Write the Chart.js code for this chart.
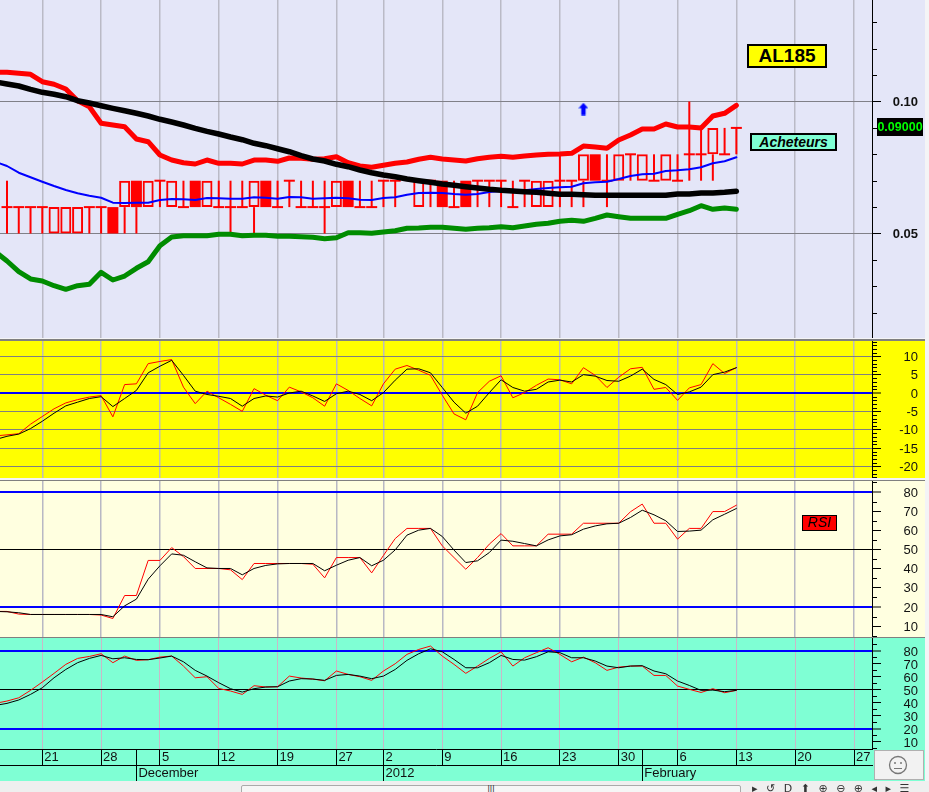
<!DOCTYPE html>
<html>
<head>
<meta charset="utf-8">
<title>AL185</title>
<script src="https://cdn.jsdelivr.net/npm/chart.js@4/dist/chart.umd.min.js"></script>
<style>
  html, body { margin:0; padding:0; width:929px; height:792px; overflow:hidden; background:#f4f4f6; font-family:"Liberation Sans", Arial, sans-serif; }
  canvas { position:absolute; left:0; display:block; }
  .sep { position:absolute; left:0; width:925px; background:#808080; }
  .tag { position:absolute; box-sizing:border-box; border:2px solid #000; text-align:center; color:#000; white-space:nowrap; }
  .abs { position:absolute; }
</style>
</head>
<body>
<canvas id="c-price" width="925" height="338" style="top:0;background:#e4e6f8"></canvas>
<div class="sep" style="top:339px;height:2px"></div>
<canvas id="c-macd" width="925" height="137" style="top:341px;background:#ffff00"></canvas>
<div class="sep" style="top:480px;height:1px"></div>
<canvas id="c-rsi" width="925" height="156" style="top:481px;background:#ffffe0"></canvas>
<div class="sep" style="top:637px;height:1px"></div>
<canvas id="c-stoch" width="925" height="143" style="top:638px;background:#7fffd4"></canvas>

<div class="tag" style="left:747px;top:44px;width:80px;height:24px;background:#ffff00;font:bold 19px/20px 'Liberation Sans'">AL185</div>
<div class="tag" style="left:750px;top:133px;width:87px;height:18px;background:#7fffd4;font:italic bold 14px/14px 'Liberation Sans'">Acheteurs</div>
<div class="tag" style="left:802px;top:515px;width:35px;height:16px;background:#ff0000;font:italic 14px/13px 'Liberation Sans';border-width:1px">RSI</div>
<div class="abs" style="left:877px;top:118px;width:46px;height:18px;background:#000;color:#00ff00;font:bold 12.5px/18px 'Liberation Sans';overflow:hidden;text-align:center">0.09000</div>

<!-- boite du smiley et barre du bas -->
<div class="abs" style="left:874px;top:750px;width:50px;height:30px;box-sizing:border-box;background:#f2f2f2;border:1px solid #b0b0b0">
  <svg width="48" height="28" style="display:block"><circle cx="23" cy="14" r="8.5" fill="none" stroke="#777" stroke-width="1.3"/><circle cx="20" cy="12" r="1" fill="#777"/><circle cx="26" cy="12" r="1" fill="#777"/><line x1="19" y1="17.5" x2="27" y2="17.5" stroke="#777"/></svg>
</div>
<div class="abs" style="left:0;top:781px;width:929px;height:11px;background:#efefef"></div>
<div class="abs" style="left:241px;top:785px;width:500px;height:12px;box-sizing:border-box;background:#f6f6f6;border:1px solid #aaa;border-radius:2px;text-align:center;font:9px/7px 'Liberation Sans';color:#333">|||</div>
<div class="abs" style="left:752px;top:783px;width:177px;height:9px;overflow:hidden;font:11px/12px 'DejaVu Sans';color:#333;white-space:nowrap;word-spacing:5px">▸ ↺ D ⬆ ⊕ ⊖ ⊕ ◂ ▸ ☰</div>

<script>
/* =====================================================
   DATOS
===================================================== */
const tickIdx    = [3,8,13,18,23,28,32,37,42,47,52,57,62,67,72];
const tickLabels = ['21','28','5','12','19','27','2','9','16','23','30','6','13','20','27'];
const monthIdx    = [11,32,54];
const monthLabels = ['December','2012','February'];

// bar index -1 .. 62
const bollUp = [.11117,.11106,.11068,.11030,.10750,.10652,.10473,.10030,.09803,.09174,.09110,.09045,.08580,.08477,.07973,.07784,
  .07682,.07633,.07784,.07659,.07659,.07633,.07784,.07784,.07735,.07860,.07850,.07811,.07833,.07909,.07682,.07557,
  .07508,.07583,.07659,.07708,.07811,.07886,.07822,.07784,.07746,.07833,.07886,.07924,.07886,.07936,.07973,.08000,
  .08011,.08038,.08314,.08277,.08227,.08542,.08731,.08958,.08958,.09148,.09034,.09034,.08996,.09451,.09553,.09856];
const slowMa = [.10739,.10663,.10587,.10462,.10348,.10273,.10182,.10030,.09943,.09841,.09742,.09652,.09553,.09451,.09326,.09223,
  .09110,.08985,.08871,.08769,.08655,.08553,.08417,.08326,.08212,.08098,.07947,.07822,.07746,.07621,.07530,.07405,
  .07303,.07216,.07152,.07064,.07000,.06939,.06875,.06826,.06773,.06723,.06674,.06636,.06610,.06583,.06561,.06523,
  .06485,.06485,.06470,.06447,.06447,.06447,.06447,.06447,.06447,.06447,.06496,.06496,.06534,.06534,.06561,.06598];
const fastMa = [.07720,.07557,.07303,.07129,.06962,.06799,.06648,.06523,.06432,.06356,.06167,.06155,.06167,.06167,.06269,.06307,
  .06295,.06269,.06345,.06333,.06318,.06318,.06371,.06356,.06318,.06383,.06371,.06318,.06333,.06356,.06333,.06280,
  .06269,.06345,.06371,.06470,.06534,.06545,.06534,.06496,.06470,.06496,.06572,.06610,.06621,.06636,.06686,.06723,
  .06750,.06773,.06902,.06939,.06962,.07064,.07178,.07242,.07265,.07367,.07394,.07432,.07508,.07659,.07735,.07886];
const bollDown = [.04311,.03958,.03553,.03277,.03201,.03023,.02886,.03023,.03076,.03530,.03239,.03390,.03682,.03932,.04538,.04867,
  .04917,.04917,.04917,.04970,.04970,.04917,.04932,.04932,.04894,.04894,.04879,.04856,.04803,.04841,.05030,.05030,
  .05008,.05057,.05106,.05197,.05208,.05235,.05235,.05197,.05159,.05197,.05220,.05258,.05220,.05284,.05348,.05386,
  .05462,.05500,.05462,.05576,.05701,.05636,.05576,.05576,.05576,.05576,.05727,.05864,.06053,.05917,.05966,.05917];

// candles, bar index 0 .. 62 (34 no se ve)
const opens = [.06,.06,.06,.06,.05,.05,.05,.06,.06,.06, .06,.07,.06,.07,.06,.06,.07,.06,.06,.06,
  .06,.06,.07,.06,.07,.06,.06,.06,.06,.07, .06,.06,.07,.07,null,.06,.07,.07,.06,.07,
  .07,.07,.07,.06,.07,.06,.06,.07,.07,.07, .08,.07,.07,.08,.07,.07,.07,.07,.08,.08, .08,.08,.09];
const highs = [.07,.06,.06,.06,.06,.06,.06,.06,.06,.06, .07,.07,.07,.07,.07,.07,.07,.07,.07,.07,
  .07,.07,.07,.07,.07,.07,.07,.07,.07,.07, .07,.07,.07,.07,null,.07,.07,.07,.07,.07,
  .07,.07,.07,.07,.07,.07,.07,.08,.07,.08, .08,.08,.08,.08,.08,.08,.08,.08,.10,.09, .09,.09,.09];
const lows = [.05,.05,.05,.05,.05,.05,.05,.05,.05,.05, .05,.05,.06,.06,.06,.06,.06,.06,.06,.05,
  .06,.05,.06,.06,.06,.06,.06,.05,.06,.06, .06,.06,.06,.06,null,.06,.06,.06,.06,.06,
  .06,.06,.06,.06,.06,.06,.06,.06,.06,.06, .07,.06,.07,.07,.07,.07,.07,.07,.07,.07, .07,.08,.08];
const closes = [.06,.06,.06,.06,.06,.06,.06,.06,.06,.05, .07,.06,.07,.07,.07,.06,.06,.07,.06,.06,
  .06,.07,.06,.06,.07,.06,.06,.06,.07,.06, .06,.06,.07,.07,null,.07,.07,.06,.06,.06,
  .07,.07,.07,.06,.07,.07,.07,.07,.07,.08, .07,.07,.08,.08,.08,.07,.08,.07,.08,.08, .09,.08,.09];
const signalArrow = [{ x:49, y:.09716 }];

const macdRed = [-11.7,-11.4,-11.1,-8.5,-6.4,-4.3,-2.7,-1.8,-1.1,-0.7,-6.5,2.3,2.5,8,8.6,9.1,
  1.6,-2.9,0.5,-1.3,-3.1,-5,1.2,-0.6,-2.1,1.6,0.3,-1.3,-3.6,2.5,0.7,-1.5,
  -3.5,2.5,6.5,7.5,6.2,4.8,-0.6,-5.7,-7.3,0.1,3.2,4.7,-1.3,0.1,2.1,3.8,
  3.6,2.5,6.9,4.8,1.5,4.3,6.6,7,1,1.5,-2,1.4,2.3,8,5.3,6.9];
const macdBlack = [-12.7,-11.8,-11.2,-9.7,-7.7,-5.5,-3.5,-2.5,-1.5,-1,-3.7,-1.5,0.7,5.5,7.3,8.9,
  4.8,0.5,-0.4,-0.9,-1.5,-3.6,-1.5,-0.8,-1.1,0,0.5,-0.8,-2.3,-0.2,0.5,-0.4,
  -2.1,0.1,3.5,6.5,6.6,5.5,1.5,-2.5,-5.5,-3.6,0.1,3.6,1.5,0.5,1,3,
  3.5,3,5,4.6,3.4,3.2,4.6,6.5,3.7,2.3,-0.4,0.3,1.6,5,5.7,6.9];

const rsiRed = [17.7,17.7,16.3,16.1,16.1,16.1,16.1,16.1,16.1,15.8,14,26,26,44.3,44.3,51,
  46.3,40.1,40.1,40.1,39.4,34.3,42.7,42.7,42.7,42.7,42.7,42.3,35.2,45.8,45.8,45.8,
  37.8,46.9,55.7,61,61,61,51.9,45.8,39.7,45.8,52.8,58.3,51.9,51.9,51.9,58,
  58,58,63.7,63.7,63.7,63.7,69.7,73.7,63.7,63.7,55.4,61,61,69.8,69.8,73.1];
const rsiBlack = [17.7,17.5,17,16.1,16.1,16.1,16.1,16.1,16.1,16.1,14.9,20.6,24.1,34.5,41.5,47.7,
  47,43.6,40.4,40.1,40.1,36.8,40.1,41.7,42.5,42.7,42.7,42.7,38.9,41.8,44.4,45.8,
  41.5,44.4,49.8,57.5,60.1,61,56.8,49.7,43.2,44.1,48.4,54.9,54.3,53.1,51.9,55,
  57.1,57.7,60.6,62.3,63.4,63.7,66.7,70.5,68.1,65,59.4,59.6,60.1,65.5,68.4,71.4];

const stochRed = [39.5,41.3,43.8,49.5,55.9,62.6,69.5,74.1,75.6,77.7,70.8,75.9,72.6,73.1,75.1,75.9,
  68.2,59.2,60,51,49,46.4,53.1,52.1,52.3,60.5,59,58.2,56.9,64.4,61.8,60,
  57.2,64.4,70,77.2,81,83.6,75.9,69.5,62.6,68.2,74.1,79.2,68.2,74.6,78.5,82.3,
  77.2,71.5,75.1,70.8,64.9,67.4,68.2,68.2,61,61,52.8,50.3,47.9,50.8,47.7,49.5];
const stochBlack = [37.9,39.5,42.1,46.4,51.5,59.2,65.6,70.8,74.1,76.4,73.8,74.6,73.3,73.1,74.4,75.9,
  71.5,64.9,60.5,55.4,50.8,48.2,50.8,52.1,52.3,56.7,58.5,58.2,57.2,61,61.8,60.5,
  58.5,60.5,65.6,72.6,77.7,81.5,79.2,73.3,66.9,66.9,70.8,76.4,73.3,72.8,75.4,79.2,
  78.5,74.6,74.6,72.1,68.2,66.9,68.2,68.5,64.4,62.3,56.7,53.3,49.5,49.7,48.5,49.5];

const priceTicks = [.05,.10];
const priceMinor = [.02,.03,.04,.06,.07,.08,.09,.11,.12,.13];
const macdTicks = [-20,-15,-10,-5,0,5,10];
const macdMinor = [-23,-22,-21,-19,-18,-17,-16,-14,-13,-12,-11,-9,-8,-7,-6,-4,-3,-2,-1,1,2,3,4,6,7,8,9,11,12,13,14];
const oscTicks = [10,20,30,40,50,60,70,80];
const oscMinor = [5,15,25,35,45,55,65,75,85];

/* =====================================================
   HELPERS
===================================================== */
const FONT = "'Liberation Sans', Arial, sans-serif";
const X_MIN = -0.595, X_MAX = 73.53;

const toPts = arr => arr.map((v,k) => ({ x:k-1, y:v }));
const line = (data, color, width, order) => ({
  type:'line', data:toPts(data), borderColor:color, borderWidth:width, pointRadius:0, tension:0,
  borderCapStyle:'round', borderJoinStyle:'round', fill:false, order
});

// ticks cortos sin texto sobre el eje derecho
const minorTicks = vals => ({
  id:'minorTicks',
  afterDraw(chart) {
    const y = chart.scales.y, ctx = chart.ctx;
    ctx.save();
    ctx.strokeStyle = '#000'; ctx.lineWidth = 1;
    vals.forEach(v => {
      const py = Math.round(y.getPixelForValue(v)) + .5;
      ctx.beginPath(); ctx.moveTo(y.left, py); ctx.lineTo(y.left + 5, py); ctx.stroke();
    });
    ctx.restore();
  }
});

function xAxis(gridColor) {
  return {
    type:'linear', min:X_MIN, max:X_MAX, offset:false,
    grid:{ color:gridColor, lineWidth:1.5, offset:false, drawTicks:false },
    border:{ display:false },
    ticks:{ display:false, autoSkip:false },
    afterBuildTicks: s => { s.ticks = tickIdx.map(v => ({ value:v })); },
    afterFit: s => { s.height = 0; s.paddingLeft = 0; s.paddingRight = 0; }
  };
}

function yAxis({ min, max, ticks, labels, gridColor, gridWidth, font, labelOffset }) {
  return {
    type:'linear', position:'right', min, max,
    grid:{ color:gridColor, lineWidth:gridWidth, tickColor:'#000', tickWidth:1, tickLength:9 },
    border:{ display:true, color:'#000', width:1 },
    ticks:{ autoSkip:false, color:'#111', font, labelOffset, crossAlign:'far', callback:labels },
    afterBuildTicks: s => { s.ticks = ticks.map(v => ({ value:v })); },
    afterFit: s => { s.width = 46; s.paddingTop = 0; s.paddingBottom = 0; }
  };
}

function makeChart(id, datasets, x, y, minor, extraScales) {
  return new Chart(document.getElementById(id), {
    type:'line',
    data:{ datasets },
    options:{
      responsive:false, animation:false, events:[],
      layout:{ padding:{ right:7 }, autoPadding:false },
      plugins:{ legend:{ display:false }, tooltip:{ enabled:false } },
      scales:Object.assign({ x, y }, extraScales || {})
    },
    plugins:[minorTicks(minor)]
  });
}

/* =====================================================
   PRECIO
===================================================== */
const wicks = [], hollow = [], filled = [], dojis = [];
opens.forEach((o,i) => {
  if (o === null) return;
  const c = closes[i];
  const top = Math.max(o, c), bottom = Math.min(o, c);
  // la mecha no cruza el cuerpo hueco
  if (highs[i] > top) wicks.push({ x:i, y:[top, highs[i]] });
  if (lows[i] < bottom) wicks.push({ x:i, y:[lows[i], bottom] });
  if (c > o) hollow.push({ x:i, y:[o, c] });
  else if (c < o) filled.push({ x:i, y:[c, o] });
  else dojis.push({ x:i, y:c });
});

const arrowImg = document.createElement('canvas');
arrowImg.width = 10; arrowImg.height = 13;
(() => {
  const g = arrowImg.getContext('2d');
  g.fillStyle = '#0000ff'; g.strokeStyle = '#7f9fff'; g.lineWidth = 1;
  g.beginPath();
  g.moveTo(5,.5); g.lineTo(9.5,5.5); g.lineTo(7,5.5); g.lineTo(7,12.5); g.lineTo(3,12.5); g.lineTo(3,5.5); g.lineTo(.5,5.5);
  g.closePath(); g.stroke(); g.fill();
})();

const barBase = { type:'bar', grouped:false, borderSkipped:false, inflateAmount:0 };
makeChart('c-price', [
  line(slowMa, '#000', 5.5, 1),
  line(fastMa, '#0000ff', 2, 2),
  line(bollUp, '#ff0000', 5, 3),
  line(bollDown, '#008c00', 5, 3),
  { type:'scatter', data:signalArrow, pointStyle:arrowImg, pointRadius:6, showLine:false, order:1 },
  { ...barBase, data:wicks, backgroundColor:'#ff0000', borderWidth:0, barThickness:2, order:6 },
  { ...barBase, data:hollow, backgroundColor:'rgba(0,0,0,0)', borderColor:'#ff0000', borderWidth:2, barThickness:11, order:5 },
  { ...barBase, data:filled, backgroundColor:'#ff0000', borderWidth:0, barThickness:11, order:5 },
  { type:'scatter', data:dojis, pointStyle:'line', pointRadius:5.5, borderColor:'#ff0000', pointBorderColor:'#ff0000', pointBorderWidth:2, showLine:false, order:5 }
], xAxis('#babac6'), yAxis({
  min:.01042, max:.13845, ticks:priceTicks, labels:v => v.toFixed(2),
  gridColor:'#808088', gridWidth:1, font:{ family:FONT, size:13, weight:'bold' }, labelOffset:1
}), priceMinor);

/* =====================================================
   OSCILADORES
===================================================== */
const axisFont = { family:FONT, size:13 };

makeChart('c-macd', [
  line(macdBlack, '#000', 1, 1),
  line(macdRed, '#ff0000', 1, 2)
], xAxis('#bcbcbc'), yAxis({
  min:-23.16, max:14.17, ticks:macdTicks, labels:v => String(v),
  gridColor:c => c.tick.value === 0 ? '#0000ff' : '#808080',
  gridWidth:c => c.tick.value === 0 ? 2 : 1,
  font:axisFont, labelOffset:1
}), macdMinor);

const oscGrid = c => c.tick.value === 80 || c.tick.value === 20 ? '#0000ff' : c.tick.value === 50 ? '#000' : 'rgba(0,0,0,0)';
const oscGridW = c => c.tick.value === 80 || c.tick.value === 20 ? 2 : 1;

makeChart('c-rsi', [
  line(rsiBlack, '#000', 1, 1),
  line(rsiRed, '#ff0000', 1, 2)
], xAxis('#b8b8c4'), yAxis({
  min:4.35, max:85.74, ticks:oscTicks, labels:v => String(v),
  gridColor:oscGrid, gridWidth:oscGridW, font:axisFont, labelOffset:1
}), oscMinor);

// ejes de fecha abajo: numeros y meses
const rowTicks = tickIdx.concat(monthIdx.filter(v => !tickIdx.includes(v))).sort((a,b) => a-b);
const stochX = {
  type:'linear', position:'bottom', min:X_MIN, max:X_MAX, offset:false,
  grid:{ color:c => tickIdx.includes(c.tick.value) ? '#c9b8c8' : 'rgba(0,0,0,0)', lineWidth:1, offset:false, tickColor:'#000', tickLength:16 },
  border:{ display:true, color:'#000', width:1 },
  ticks:{ autoSkip:false, maxRotation:0, minRotation:0, align:'start', labelOffset:2, padding:-15, color:'#111', font:axisFont,
    callback:v => { const k = tickIdx.indexOf(v); return k >= 0 ? tickLabels[k] : ''; } },
  afterBuildTicks: s => { s.ticks = rowTicks.map(v => ({ value:v })); },
  afterFit: s => { s.height = 16; s.paddingLeft = 0; s.paddingRight = 0; }
};
const monthX = {
  type:'linear', position:'bottom', min:X_MIN, max:X_MAX, offset:false,
  grid:{ drawOnChartArea:false, offset:false, tickColor:'#000', tickLength:16 },
  border:{ display:true, color:'#000', width:1 },
  ticks:{ autoSkip:false, maxRotation:0, minRotation:0, align:'start', labelOffset:2, padding:-15, color:'#111', font:axisFont,
    callback:v => monthLabels[monthIdx.indexOf(v)] },
  afterBuildTicks: s => { s.ticks = monthIdx.map(v => ({ value:v })); },
  afterFit: s => { s.height = 16; s.paddingLeft = 0; s.paddingRight = 0; }
};

makeChart('c-stoch', [
  line(stochBlack, '#000', 1, 1),
  line(stochRed, '#ff0000', 1, 2)
], stochX, yAxis({
  min:4.4, max:89.8, ticks:oscTicks, labels:v => String(v),
  gridColor:oscGrid, gridWidth:oscGridW, font:axisFont, labelOffset:2
}), oscMinor, { x2:monthX });
</script>
</body>
</html>
